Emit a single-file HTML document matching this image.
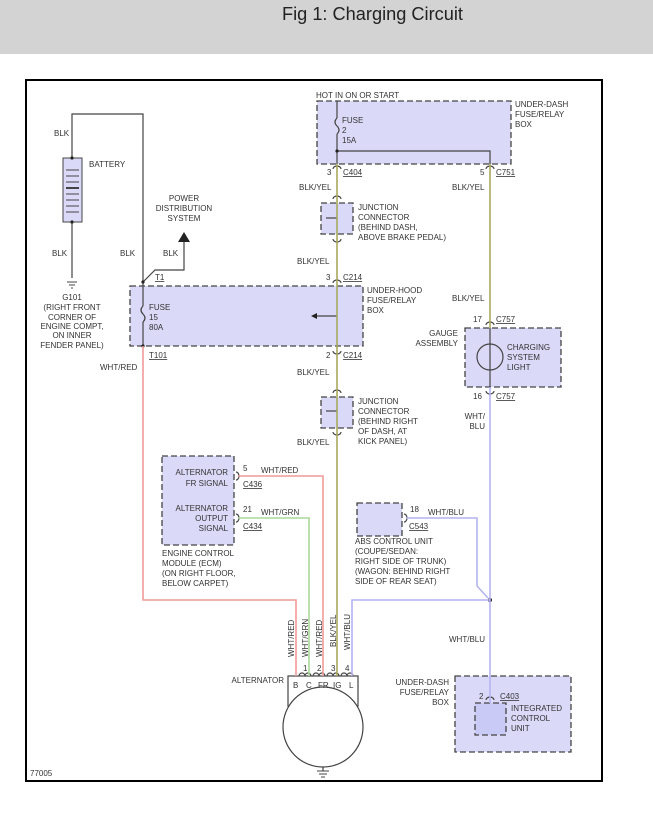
<!DOCTYPE html>
<html><head><meta charset="utf-8"><style>
body{margin:0;background:#fff;width:653px;height:815px;overflow:hidden;font-family:"Liberation Sans",sans-serif}
.hdr{position:absolute;left:0;top:0;width:653px;height:54px;background:#d3d3d3}
.hdr div{position:absolute;left:282px;top:4px;font-size:18.2px;color:#222}
svg{position:absolute;left:0;top:0}
text{font-family:"Liberation Sans",sans-serif;font-size:8px;fill:#333}
.u{text-decoration:underline}
</style></head><body>
<div class="hdr"><div>Fig 1: Charging Circuit</div></div>
<svg width="653" height="815">
<rect x="26" y="80" width="576" height="701" fill="none" stroke="#000" stroke-width="2"/>
<g fill="#dadaf8" stroke="#444" stroke-width="1.3" stroke-dasharray="6,3">
<rect x="317" y="101" width="194" height="63"/>
<rect x="130" y="286" width="233" height="60"/>
<rect x="321" y="203" width="32" height="31"/>
<rect x="321" y="397" width="32" height="31"/>
<rect x="465" y="328" width="96" height="59"/>
<rect x="162" y="456" width="72" height="89"/>
<rect x="357" y="503" width="45" height="33"/>
<rect x="455" y="676" width="116" height="76"/>
<rect x="475" y="703" width="31" height="32" fill="#cacaf6"/>
</g>
<rect x="63" y="158" width="19" height="64" fill="#dadaf8" stroke="#444"/>
<g stroke="#444"><line x1="66" y1="170" x2="79" y2="170"/><line x1="66" y1="176" x2="79" y2="176"/><line x1="66" y1="182" x2="79" y2="182"/><line x1="66" y1="188" x2="79" y2="188" stroke-width="2"/><line x1="66" y1="194" x2="79" y2="194"/><line x1="66" y1="200" x2="79" y2="200"/><line x1="66" y1="206" x2="79" y2="206"/><line x1="66" y1="212" x2="79" y2="212"/></g>
<g fill="none" stroke="#444" stroke-width="1.2">
<polyline points="72,158 72,114 143,114 143,306"/>
<path d="M143,306 q-4,4 0,8 q4,4 0,8"/>
<line x1="143" y1="322" x2="143" y2="346"/>
<line x1="72" y1="222" x2="72" y2="278"/>
<polyline points="143,282 155,270 184,270 184,242"/>
<line x1="337" y1="101" x2="337" y2="118"/>
<path d="M337,118 q-4,4 0,8 q4,4 0,8"/>
<line x1="337" y1="134" x2="337" y2="164"/>
<polyline points="337,151 490,151 490,164"/>
<line x1="337" y1="316" x2="314" y2="316"/>
<line x1="337" y1="218" x2="326" y2="218"/>
<line x1="337" y1="411" x2="326" y2="411"/>
<line x1="490" y1="328" x2="490" y2="387"/>
<circle cx="490" cy="357" r="13"/>
<rect x="288" y="676" width="70" height="30"/>
<circle cx="323" cy="727" r="40" fill="#fff"/>
<line x1="323" y1="767" x2="323" y2="771"/>
<path d="M333,169 a4,3 0 0 1 8,0 M486,169 a4,3 0 0 1 8,0 M333,199 a4,3 0 0 1 8,0 M333,239 a4,3 0 0 0 8,0 M333,283 a4,3 0 0 1 8,0 M333,351 a4,3 0 0 0 8,0 M333,393 a4,3 0 0 1 8,0 M333,432 a4,3 0 0 0 8,0 M486,325 a4,3 0 0 1 8,0 M486,391 a4,3 0 0 0 8,0 M486,700 a4,3 0 0 1 8,0"/>
<path d="M299,676 a3,3 0 0 1 6,0 M305,676 a3,3 0 0 1 6,0 M313,676 a3,3 0 0 1 6,0 M319,676 a3,3 0 0 1 6,0 M327,676 a3,3 0 0 1 6,0 M333,676 a3,3 0 0 1 6,0 M341,676 a3,3 0 0 1 6,0 M347,676 a3,3 0 0 1 6,0"/>
<path d="M236,472 a3,4 0 0 1 0,8 M236,514 a3,4 0 0 1 0,8 M404,514 a3,4 0 0 1 0,8"/>
</g>
<g stroke="#444"><line x1="67" y1="282" x2="77" y2="282"/><line x1="69" y1="285" x2="75" y2="285"/><line x1="71" y1="288" x2="73" y2="288"/>
<line x1="317" y1="771" x2="329" y2="771"/><line x1="319" y1="774" x2="327" y2="774"/><line x1="321" y1="777" x2="325" y2="777"/></g>
<polygon points="184,232 178,242 190,242" fill="#222"/>
<polygon points="311,316 317,313 317,319" fill="#222"/>
<g fill="#222"><circle cx="143" cy="282" r="1.6"/><circle cx="143" cy="346" r="1.6"/><circle cx="337" cy="151" r="1.6"/><circle cx="490" cy="600" r="2"/><circle cx="72" cy="158" r="1.6"/><circle cx="72" cy="222" r="1.6"/></g>
<g fill="none" stroke-width="1.6">
<line x1="337" y1="164" x2="337" y2="676" stroke="#a8a85c"/>
<line x1="490" y1="164" x2="490" y2="328" stroke="#a8a85c"/>
<polyline points="143,346 143,600 296,600 296,676" stroke="#f09a9a"/>
<polyline points="238,476 323,476 323,676" stroke="#f09a9a"/>
<polyline points="238,518 309,518 309,676" stroke="#a8d89a"/>
<polyline points="490,387 490,703" stroke="#b4b4f0"/>
<polyline points="406,518 477,518 477,586 488,598" stroke="#b4b4f0"/>
<polyline points="490,600 352,600 352,676" stroke="#b4b4f0"/>
</g>
<text x="54" y="136">BLK</text><text x="89" y="167">BATTERY</text>
<text x="52" y="256">BLK</text><text x="120" y="256">BLK</text><text x="163" y="256">BLK</text>
<text x="184" y="201" text-anchor="middle">POWER</text><text x="184" y="211" text-anchor="middle">DISTRIBUTION</text><text x="184" y="221" text-anchor="middle">SYSTEM</text>
<text x="72" y="300" text-anchor="middle">G101</text><text x="72" y="310" text-anchor="middle">(RIGHT FRONT</text><text x="72" y="320" text-anchor="middle">CORNER OF</text><text x="72" y="329" text-anchor="middle">ENGINE COMPT,</text><text x="72" y="338" text-anchor="middle">ON INNER</text><text x="72" y="348" text-anchor="middle">FENDER PANEL)</text>
<text x="155" y="280" class="u">T1</text><text x="149" y="358" class="u">T101</text>
<text x="149" y="310">FUSE</text><text x="149" y="320">15</text><text x="149" y="330">80A</text>
<text x="100" y="370">WHT/RED</text>
<text x="316" y="98">HOT IN ON OR START</text>
<text x="342" y="123">FUSE</text><text x="342" y="133">2</text><text x="342" y="143">15A</text>
<text x="515" y="107">UNDER-DASH</text><text x="515" y="117">FUSE/RELAY</text><text x="515" y="127">BOX</text>
<text x="327" y="175">3</text><text x="343" y="175" class="u">C404</text><text x="480" y="175">5</text><text x="496" y="175" class="u">C751</text>
<text x="299" y="190">BLK/YEL</text><text x="452" y="190">BLK/YEL</text>
<text x="358" y="210">JUNCTION</text><text x="358" y="220">CONNECTOR</text><text x="358" y="230">(BEHIND DASH,</text><text x="358" y="240">ABOVE BRAKE PEDAL)</text>
<text x="297" y="264">BLK/YEL</text><text x="326" y="280">3</text><text x="343" y="280" class="u">C214</text>
<text x="367" y="293">UNDER-HOOD</text><text x="367" y="303">FUSE/RELAY</text><text x="367" y="313">BOX</text>
<text x="452" y="301">BLK/YEL</text>
<text x="326" y="358">2</text><text x="343" y="358" class="u">C214</text><text x="297" y="375">BLK/YEL</text>
<text x="358" y="404">JUNCTION</text><text x="358" y="414">CONNECTOR</text><text x="358" y="424">(BEHIND RIGHT</text><text x="358" y="434">OF DASH, AT</text><text x="358" y="444">KICK PANEL)</text>
<text x="297" y="445">BLK/YEL</text>
<text x="473" y="322">17</text><text x="496" y="322" class="u">C757</text>
<text x="458" y="336" text-anchor="end">GAUGE</text><text x="458" y="346" text-anchor="end">ASSEMBLY</text>
<text x="507" y="350">CHARGING</text><text x="507" y="360">SYSTEM</text><text x="507" y="370">LIGHT</text>
<text x="473" y="399">16</text><text x="496" y="399" class="u">C757</text>
<text x="485" y="419" text-anchor="end">WHT/</text><text x="485" y="429" text-anchor="end">BLU</text>
<text x="228" y="475" text-anchor="end">ALTERNATOR</text><text x="228" y="486" text-anchor="end">FR SIGNAL</text>
<text x="228" y="511" text-anchor="end">ALTERNATOR</text><text x="228" y="521" text-anchor="end">OUTPUT</text><text x="228" y="531" text-anchor="end">SIGNAL</text>
<text x="243" y="471">5</text><text x="261" y="473">WHT/RED</text><text x="243" y="487" class="u">C436</text>
<text x="243" y="512">21</text><text x="261" y="515">WHT/GRN</text><text x="243" y="529" class="u">C434</text>
<text x="162" y="556">ENGINE CONTROL</text><text x="162" y="566">MODULE (ECM)</text><text x="162" y="576">(ON RIGHT FLOOR,</text><text x="162" y="586">BELOW CARPET)</text>
<text x="410" y="512">18</text><text x="428" y="515">WHT/BLU</text><text x="409" y="529" class="u">C543</text>
<text x="355" y="544">ABS CONTROL UNIT</text><text x="355" y="554">(COUPE/SEDAN:</text><text x="355" y="564">RIGHT SIDE OF TRUNK)</text><text x="355" y="574">(WAGON: BEHIND RIGHT</text><text x="355" y="584">SIDE OF REAR SEAT)</text>
<text x="449" y="642">WHT/BLU</text>
<text transform="translate(294,657) rotate(-90)">WHT/RED</text>
<text transform="translate(308,657) rotate(-90)">WHT/GRN</text>
<text transform="translate(322,657) rotate(-90)">WHT/RED</text>
<text transform="translate(336,647) rotate(-90)">BLK/YEL</text>
<text transform="translate(350,650) rotate(-90)">WHT/BLU</text>
<text x="303" y="671">1</text><text x="317" y="671">2</text><text x="331" y="671">3</text><text x="345" y="671">4</text>
<text x="284" y="683" text-anchor="end">ALTERNATOR</text>
<text x="293" y="688">B</text><text x="306" y="688">C</text><text x="318" y="688">FR</text><text x="333" y="688">IG</text><text x="349" y="688">L</text>
<text x="449" y="685" text-anchor="end">UNDER-DASH</text><text x="449" y="695" text-anchor="end">FUSE/RELAY</text><text x="449" y="705" text-anchor="end">BOX</text>
<text x="479" y="699">2</text><text x="500" y="699" class="u">C403</text>
<text x="511" y="711">INTEGRATED</text><text x="511" y="721">CONTROL</text><text x="511" y="731">UNIT</text>
<text x="30" y="776">77005</text>
</svg>
</body></html>
